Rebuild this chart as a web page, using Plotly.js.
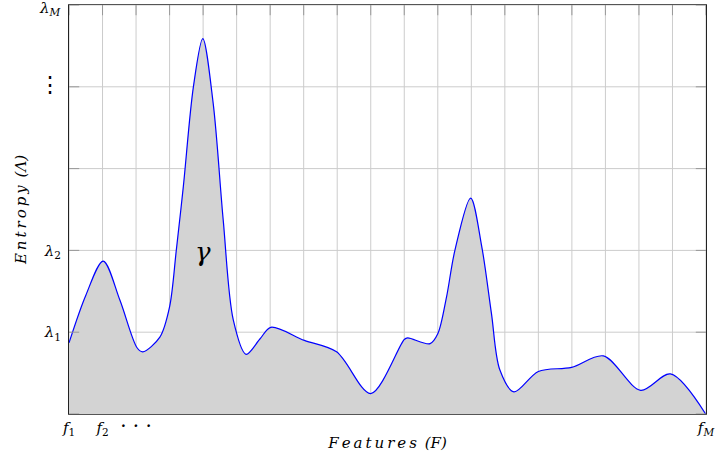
<!DOCTYPE html>
<html>
<head>
<meta charset="utf-8">
<script src="https://cdn.plot.ly/plotly-3.0.1.min.js"></script>
<style>html,body{margin:0;padding:0;background:#fff;}#chart{width:717px;height:457px;}</style>
</head>
<body>
<div id="chart"></div>
<script>
// Feature position (index along F) and entropy value
const featureX = [0, 0.5, 1.02, 1.52, 2.03, 2.2, 2.71, 3.0, 3.2, 3.41, 3.71, 3.99, 4.30, 4.6, 4.9, 5.28, 5.7, 6.02, 7.02, 7.98, 9.0, 10.0, 10.1, 10.77, 11.0, 11.26, 11.51, 11.98, 12.31, 12.6, 12.85, 13.27, 14.0, 14.99, 15.94, 17.05, 17.94, 18.99];
const entropy  = [0.87, 1.45, 1.87, 1.39, 0.81, 0.76, 0.94, 1.31, 2.0, 2.78, 4.0, 4.59, 3.8, 2.37, 1.15, 0.73, 0.92, 1.06, 0.90, 0.76, 0.25, 0.91, 0.93, 0.86, 0.98, 1.43, 2.0, 2.64, 2.05, 1.23, 0.54, 0.27, 0.52, 0.57, 0.71, 0.29, 0.49, 0.0];

const xTickVals = [0, 1, 2, 19];
const xTickText = ['<i>f</i><sub>1</sub>', '<i>f</i><sub>2</sub>', '<span style="font-size:20px">· · ·</span>', '<i>f</i><sub><i>M</i></sub>'];
const yTickVals = [1, 2, 4];
const yTickText = ['<i>λ</i><sub>1</sub>', '<i>λ</i><sub>2</sub>', '<span style="font-size:22px">⋮</span>'];
const topTick = {y: 5, text: '<i>λ</i><sub><i>M</i></sub>'};
const gridX = [0,1,2,3,4,5,6,7,8,9,10,11,12,13,14,15,16,17,18,19];
const gridY = [0,1,2,3,4,5];
const peakLabel = {x: 4.0, y: 1.98, text: '<i>γ</i>'};

const serif = 'DejaVu Serif';
const ts = '\u2009';

const trace = {
  x: featureX, y: entropy, type: 'scatter', mode: 'lines',
  line: {color: '#0000ff', width: 1.2, shape: 'spline', smoothing: 0.9},
  fill: 'tozeroy', fillcolor: 'rgb(211,211,211)',
  hoverinfo: 'skip'
};

const layout = {
  width: 717, height: 457,
  margin: {l: 69, r: 11, t: 5, b: 43},
  paper_bgcolor: '#fff', plot_bgcolor: '#fff',
  showlegend: false,
  xaxis: {
    range: [0, 19], tickmode: 'array', tickvals: xTickVals, ticktext: xTickText,
    showgrid: false, zeroline: false,
    showline: true, linecolor: '#555', linewidth: 1, mirror: true,
    ticks: '', tickfont: {family: serif, size: 15, color: '#000'},
    ticklabeloverflow: 'allow',
    title: {text: '<i>' + 'Features'.split('').join(ts) + ts + ' (F)</i>', font: {family: serif, size: 15, color: '#000'}, standoff: 0},
    fixedrange: true
  },
  yaxis: {
    range: [0, 5], tickmode: 'array', tickvals: yTickVals, ticktext: yTickText,
    showgrid: false, zeroline: false,
    showline: true, linecolor: '#222', linewidth: 1, mirror: true,
    ticks: '', tickfont: {family: serif, size: 15, color: '#000'},
    ticklabeloverflow: 'allow', ticklabelstandoff: 4,
    title: {text: '<i>' + 'Entropy'.split('').join(ts) + ts + ' (Λ)</i>', font: {family: serif, size: 15, color: '#000'}, standoff: 8},
    fixedrange: true
  },
  shapes: [],
  annotations: [{
    x: peakLabel.x, y: peakLabel.y, xref: 'x', yref: 'y', text: peakLabel.text,
    showarrow: false, font: {family: serif, size: 26, color: '#000'}
  }, {
    x: 0, y: topTick.y, xref: 'paper', yref: 'y', text: topTick.text,
    xanchor: 'right', yanchor: 'middle', xshift: -6, yshift: -3,
    showarrow: false, font: {family: serif, size: 15, color: '#000'}
  }]
};

// grid lines (drawn below the trace)
gridX.forEach(v => layout.shapes.push({type: 'line', xref: 'x', yref: 'paper', x0: v, x1: v, y0: 0, y1: 1, layer: 'below', line: {color: '#cccccc', width: 1}}));
gridY.forEach(v => layout.shapes.push({type: 'line', xref: 'paper', yref: 'y', x0: 0, x1: 1, y0: v, y1: v, layer: 'below', line: {color: '#cccccc', width: 1}}));
// inward tick marks on top, left and right (pgfplots style)
gridX.forEach(v => {
  layout.shapes.push({type: 'line', xref: 'x', yref: 'paper', x0: v, x1: v, y0: 1, y1: 0.975, layer: 'above', line: {color: '#999', width: 1}});
});
gridY.forEach(v => {
  layout.shapes.push({type: 'line', xref: 'paper', yref: 'y', x0: 0, x1: 0.016, y0: v, y1: v, layer: 'above', line: {color: '#999', width: 1}});
  layout.shapes.push({type: 'line', xref: 'paper', yref: 'y', x0: 1, x1: 0.984, y0: v, y1: v, layer: 'above', line: {color: '#999', width: 1}});
});

Plotly.newPlot('chart', [trace], layout, {displayModeBar: false, staticPlot: true});
</script>
</body>
</html>
